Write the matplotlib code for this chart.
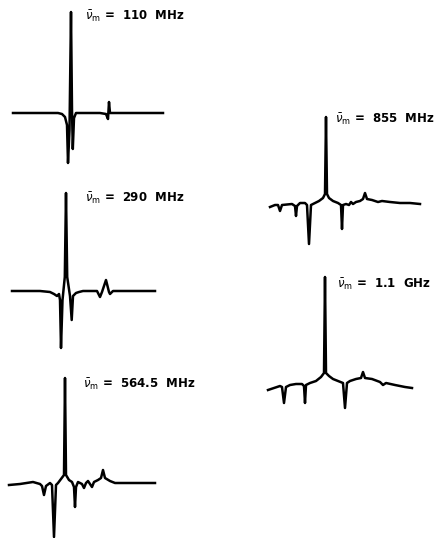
import matplotlib
matplotlib.use('Agg')
import matplotlib.pyplot as plt
import numpy as np

# traced spectra: x = offset from the central line, y = height above baseline
labels = [r'$\bar{\nu}_{\rm m}$ =  110  MHz',
          r'$\bar{\nu}_{\rm m}$ =  290  MHz',
          r'$\bar{\nu}_{\rm m}$ =  564.5  MHz',
          r'$\bar{\nu}_{\rm m}$ =  855  MHz',
          r'$\bar{\nu}_{\rm m}$ =  1.1  GHz']

x_110 = [-58, -31, -13, -9, -6, -4, -3, -1.5, 0, 1, 1.8, 3, 5, 29, 35, 37, 38, 39, 41, 92]
y_110 = [0, 0, 0, -1, -4, -12, -50, -17, 101, 3, -36, -5, 0, 0, -1, -6, 11, 0, 0, 0]

x_290 = [-54, -26, -16, -12, -9, -7, -6, -5, -3.5, -1.2, 0, 1.2, 4, 5.7, 7, 10, 13, 17,
         31, 34, 36, 40, 43, 44, 47, 89]
y_290 = [0, 0, -1, -3, -5, -3, -9, -57, -9, 14, 98, 14, -5, -29, -5, -2, -1, 0,
         0, -6, -1, 11, -1, -3, 0, 0]

x_564 = [-56, -45, -32, -25, -23, -21, -19, -15, -13, -11, -9, -7, -4, -1, 0, 1, 4, 7,
         9, 10, 11, 13, 17, 19, 21, 23, 25, 27, 29, 33, 36, 38, 40, 45, 50, 65, 90]
y_564 = [-3, -2, 0, -2, -4, -13, -4, -1, -3, -55, -3, -1, 3, 7, 104, 7, 2, 0,
         -5, -25, -5, 0, -2, -6, -1, 1, -2, -5, 0, 2, 4, 12, 4, 1, -1, -1, -1]

x_855 = [-56, -51, -48, -46, -44, -34, -31, -30, -29, -26, -21, -19, -17, -15, -11, -7, -3, -1,
         0, 1, 3, 7, 12, 15, 16, 17, 20, 23, 25, 27, 30, 34, 37, 39, 41, 46, 52, 56, 64, 74, 84, 94]
y_855 = [-7, -5, -5, -11, -5, -4, -6, -16, -6, -3, -3, -5, -44, -5, -3, -1, 2, 6,
         83, 6, 2, -1, -3, -5, -29, -5, -4, -5, -2, -4, -2, -1, 1, 7, 1, 0, -2, -1, -2, -3, -3, -4]

x_11 = [-57, -51, -45, -43, -41, -39, -35, -29, -23, -21, -20, -19, -15, -9, -4, -1,
        0, 1, 4, 8, 13, 18, 20, 22, 25, 31, 36, 38, 40, 47, 55, 58, 61, 70, 80, 87]
y_11 = [-13, -11, -9, -10, -26, -10, -8, -7, -7, -9, -26, -8, -6, -4, 0, 4,
        100, 4, 1, -2, -4, -6, -31, -6, -4, -2, -1, 5, -1, -2, -5, -8, -6, -8, -10, -11]

spectra = [(x_110, y_110), (x_290, y_290), (x_564, y_564), (x_855, y_855), (x_11, y_11)]

# layout in figure pixels: centre line x, baseline y, label x, label baseline y
panel_pos = [(71, 113, 85, 20), (66, 291, 85, 202), (65, 482, 83, 388),
             (326, 200, 335, 123), (325, 377, 337, 288)]

fig = plt.figure(figsize=(4.41, 5.38), dpi=100)
ax = fig.add_axes([0, 0, 1, 1])
ax.set_xlim(0, 441)
ax.set_ylim(538, 0)
ax.axis('off')

for (xs, ys), (cx, by, lx, ly), lab in zip(spectra, panel_pos, labels):
    xs = np.array(xs, dtype=float)
    ys = np.array(ys, dtype=float)
    ax.plot(cx + xs, by - ys, color='black', lw=1.8, solid_joinstyle='round')
    ax.text(lx, ly, lab, fontsize=8.5, fontweight='bold', va='baseline', ha='left',
            family='DejaVu Sans')

fig.savefig('out.png', dpi=100)
